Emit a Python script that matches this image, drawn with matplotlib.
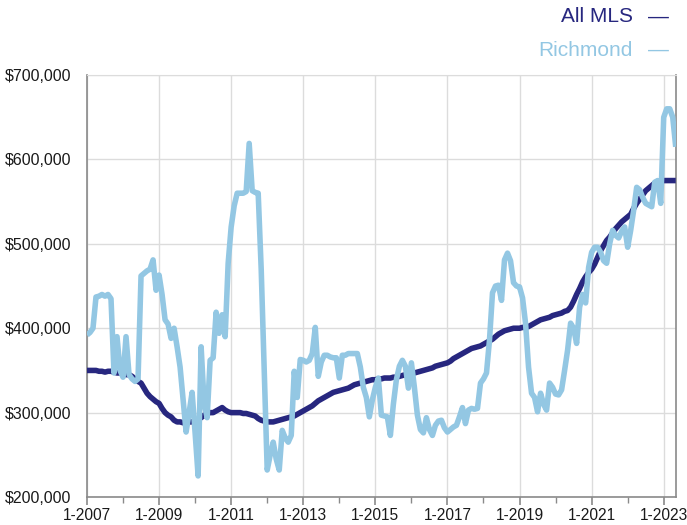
import matplotlib
matplotlib.use("Agg")
from matplotlib import pyplot as plt
from matplotlib.ticker import FuncFormatter, MultipleLocator

# monthly benchmark prices, Jan 2007 .. May 2023, in thousands of dollars
all_mls = [
    350, 350, 350, 350, 349, 349, 348, 349, 349, 348, 347, 347, 346, 345,
    345, 343, 340, 337, 335, 329, 323, 319, 316, 313, 311, 305, 300, 297,
    295, 291, 289, 289, 288, 288, 289, 289, 290, 292, 294, 297, 299, 300,
    300, 302, 304, 306, 303, 301, 300, 300, 300, 300, 299, 299, 298, 297,
    296, 293, 291, 290, 289, 289, 289, 290, 291, 292, 293, 294, 295, 296,
    298, 300, 302, 304, 306, 308, 311, 314, 316, 318, 320, 322, 324, 325,
    326, 327, 328, 329, 331, 333, 334, 335, 336, 337, 338, 339, 339, 340,
    340, 341, 341, 341, 342, 342, 343, 344, 345, 345, 346, 347, 348, 349,
    350, 351, 352, 353, 355, 356, 357, 358, 359, 361, 364, 366, 368, 370,
    372, 374, 376, 377, 378, 379, 381, 383, 385, 387, 390, 393, 395, 397,
    398, 399, 400, 400, 400, 401, 401, 402, 404, 406, 408, 410, 411, 412,
    413, 415, 416, 417, 418, 420, 421, 425, 432, 440, 447, 455, 461, 466,
    470, 476, 484, 492, 498, 504, 508, 513, 518, 522, 526, 529, 532, 535,
    542, 548, 553, 558, 563, 566, 569, 572, 574, 575, 575, 575, 575, 575,
    575,
]
richmond = [
    392, 395, 400, 437, 438, 440, 438, 440, 435, 347, 390, 350, 342, 390,
    345, 340, 337, 340, 462, 465, 468, 470, 481, 445, 463, 440, 410, 405,
    388, 400, 378, 354, 315, 277, 300, 324, 276, 225, 378, 311, 294, 362,
    365, 419, 394, 416, 390, 477, 520, 545, 560, 560, 560, 562, 619, 563,
    561, 560, 470, 350, 232, 250, 265, 245, 232, 279, 270, 265, 273, 349,
    318, 363, 362, 360, 362, 370, 401, 343, 360, 368, 368, 366, 365, 365,
    341, 368, 368, 370, 370, 370, 370, 354, 330, 318, 295, 315, 330, 341,
    297, 296, 295, 273, 310, 339, 355, 362, 355, 329, 359, 330, 297, 280,
    276, 294, 280, 273, 285, 290, 291, 282, 277, 280, 283, 285, 295, 306,
    287, 303, 305, 304, 305, 335, 340, 347, 386, 442, 450, 451, 433, 481,
    489, 480, 454, 450, 449, 436, 406, 354, 323, 318, 301, 323, 310, 303,
    335, 330, 322, 321, 327, 350, 374, 406, 400, 382, 425, 440, 430, 472,
    490, 496, 496, 490, 480, 477, 500, 516, 510, 507, 515, 520, 496, 516,
    540, 567, 564, 555, 548, 546, 544, 573, 575, 548, 650, 660, 660, 650,
    615,
]
start_year = 2007
series = [("All MLS", all_mls, "#27277f"), ("Richmond", richmond, "#93c7e3")]

plt.rcParams["font.family"] = ["Liberation Sans", "DejaVu Sans"]

fig = plt.figure(figsize=(6.87, 5.25), dpi=100)
ax = fig.add_axes([0.1266, 0.0533, 0.857, 0.8037])

months = list(range(len(all_mls)))
for name, vals, color in series:
    ax.plot(months, [v * 1000 for v in vals], color=color, lw=4.0,
            solid_joinstyle="round", solid_capstyle="butt", zorder=3)

ax.set_xlim(0, len(all_mls) - 1)
ax.set_ylim(200000, 700000)
ax.yaxis.set_major_locator(MultipleLocator(100000))
ax.yaxis.set_major_formatter(FuncFormatter(lambda v, p: f"${v:,.0f}"))
ax.xaxis.set_major_locator(MultipleLocator(24))
ax.xaxis.set_minor_locator(MultipleLocator(12))
ax.xaxis.set_major_formatter(
    FuncFormatter(lambda v, p: f"1-{start_year + int(round(v)) // 12}"))

ax.grid(True, which="major", color="#dcdcdc", lw=1.0, zorder=0)
for side in ("left", "bottom", "right"):
    ax.spines[side].set_color("#8a8a8a")
    ax.spines[side].set_linewidth(1.2)
ax.spines["top"].set_color("#dcdcdc")
ax.tick_params(axis="y", length=0, pad=11, labelsize=11.5, labelcolor="#1a1a1a")
ax.tick_params(axis="x", which="major", length=6, width=1.2, color="#8a8a8a",
               pad=2, labelsize=11.2, labelcolor="#1a1a1a")
ax.tick_params(axis="x", which="minor", length=4, width=1.0, color="#8a8a8a")

# legend as right-aligned labels above the plot
for i, (name, vals, color) in enumerate(series):
    y = 1 - (17 + 33 * i) / 525
    fig.text(633 / 687, y, name, color=color, fontsize=15, ha="right", va="center")
    fig.text(648 / 687, y, "\u2014", color=color, fontsize=15, ha="left", va="center")

fig.savefig("out.png", dpi=100)
